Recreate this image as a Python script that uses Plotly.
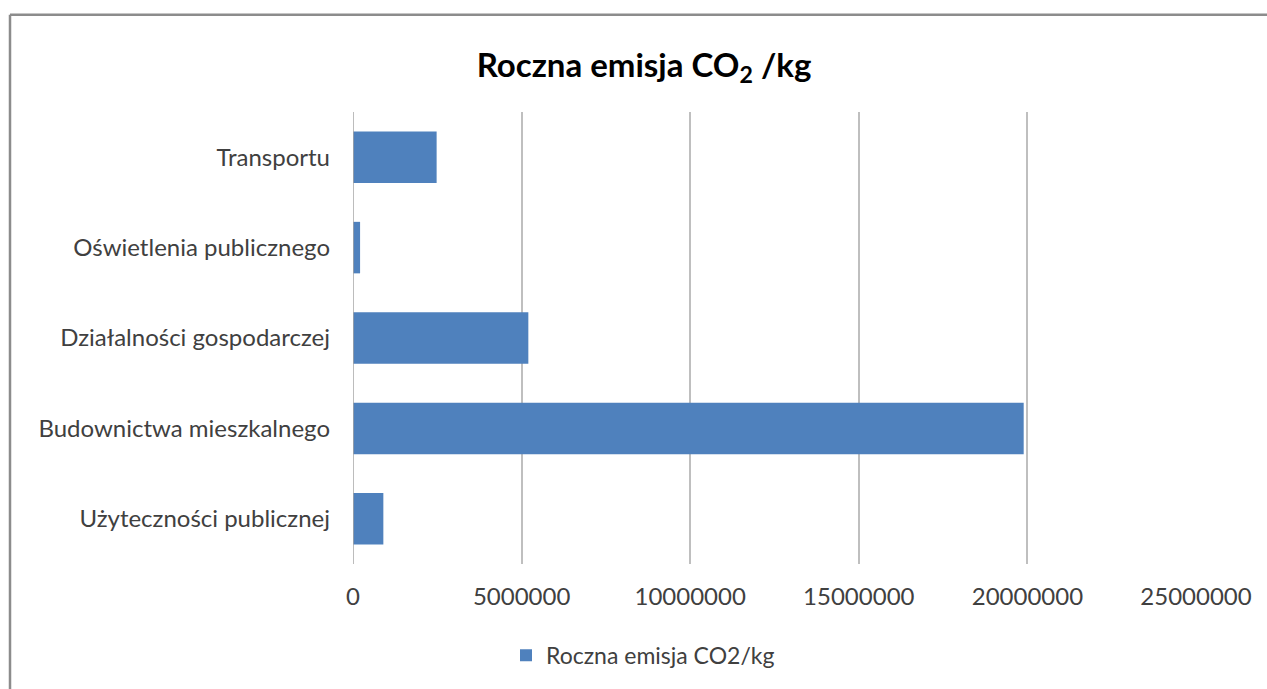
import plotly.graph_objects as go

categories = ["Użyteczności publicznej", "Budownictwa mieszkalnego", "Działalności gospodarczej",
              "Oświetlenia publicznego", "Transportu"]
values = [900000, 19890000, 5200000, 210000, 2480000]
series_name = "Roczna emisja CO2/kg"
x_ticks = [0, 5000000, 10000000, 15000000, 20000000, 25000000]

W, H = 1267, 689
L, R, T, B = 353, 71, 112, 121
pw, ph = W - L - R, H - T - B

fig = go.Figure(go.Bar(
    y=categories, x=values, orientation="h", name=series_name,
    marker=dict(color="#4F81BD", line=dict(width=0)),
    showlegend=True,
))

font = "Lato, 'Open Sans', sans-serif"
fig.update_layout(
    width=W, height=H,
    margin=dict(l=L, r=R, t=T, b=B),
    paper_bgcolor="white", plot_bgcolor="white",
    bargap=0.43,
    title=dict(text="<b>Roczna emisja CO<sub>2</sub> /kg</b>", x=644 / W, xanchor="center",
               y=1 - 65 / H, yanchor="middle",
               font=dict(family=font, size=33, color="#000000")),
    xaxis=dict(range=[0, 25000000], tickvals=x_ticks, ticktext=[str(v) for v in x_ticks],
               showgrid=True, gridcolor="#BFBFBF", gridwidth=1.5, zeroline=False,
               showline=False, ticks="", ticklabelstandoff=16,
               tickfont=dict(family=font, size=24, color="#404040")),
    yaxis=dict(showgrid=False, zeroline=False, showline=False, ticks="",
               ticklabelstandoff=22,
               tickfont=dict(family=font, size=24, color="#404040")),
    legend=dict(orientation="h", x=(643 - L) / pw, xanchor="center",
                y=-(660 - (T + ph)) / ph, yanchor="middle",
                font=dict(family=font, size=23, color="#404040")),
    shapes=[
        dict(type="line", xref="x", yref="paper", x0=0, x1=0, y0=0, y1=1,
             line=dict(color="#A6A6A6", width=1.5)),
        # outer chart border: top and left edges (right/bottom lie outside the picture)
        dict(type="line", xref="paper", yref="paper",
             x0=(10 - L) / pw, x1=(W + 30 - L) / pw,
             y0=(T + ph - 14) / ph, y1=(T + ph - 14) / ph,
             line=dict(color="#8C8C8C", width=2.5)),
        dict(type="line", xref="paper", yref="paper",
             x0=(10 - L) / pw, x1=(10 - L) / pw,
             y0=(T + ph - (H + 30)) / ph, y1=(T + ph - 14) / ph,
             line=dict(color="#8C8C8C", width=2.5)),
    ],
)

fig.write_html("out.html", config={"displayModeBar": False},
               post_script="document.body.style.margin='0';document.body.style.overflow='hidden';")
